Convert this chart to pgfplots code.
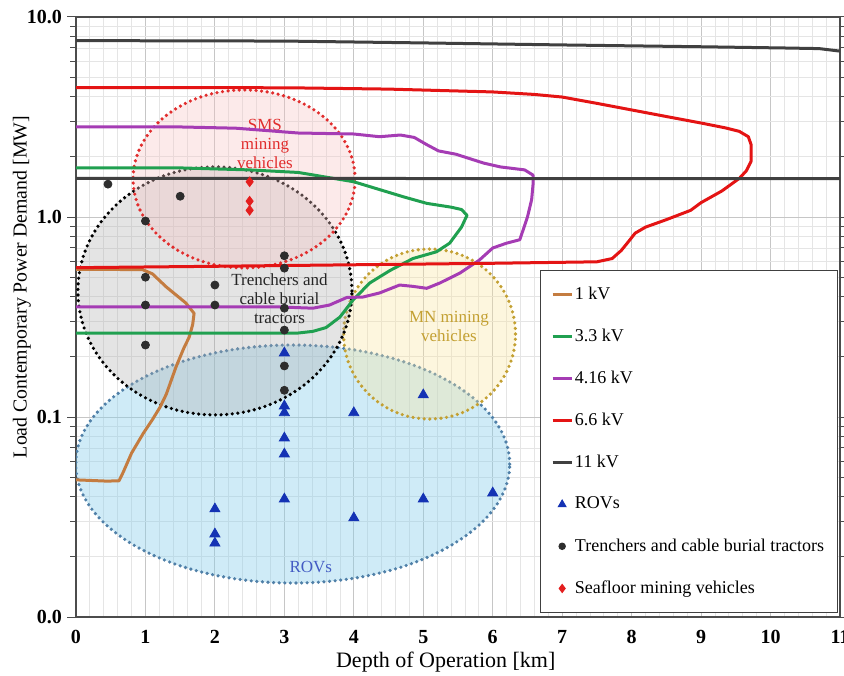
\documentclass[border=0pt]{standalone}
\usepackage{fontspec}
\setmainfont{Liberation Serif}
\usepackage{pgfplots}
\pgfplotsset{compat=1.18}
\definecolor{cone}{RGB}{196,124,64}
\definecolor{cthree}{RGB}{32,160,80}
\definecolor{cfour}{RGB}{165,60,180}
\definecolor{csix}{RGB}{228,20,20}
\definecolor{celeven}{RGB}{64,64,64}
\definecolor{crov}{RGB}{20,50,180}
\definecolor{ctr}{RGB}{45,45,45}
\definecolor{csea}{RGB}{228,30,30}
\definecolor{smsfill}{RGB}{245,195,195}
\definecolor{trfill}{RGB}{170,170,170}
\definecolor{mnfill}{RGB}{250,228,160}
\definecolor{rovfill}{RGB}{135,206,235}
\definecolor{mnline}{RGB}{195,160,50}
\definecolor{rovline}{RGB}{80,128,168}
\definecolor{smsline}{RGB}{225,45,45}
\pgfplotsset{
  linelegend/.style={legend image code/.code={\draw[##1, line width=1.3pt] (0pt,0pt) -- (9.5pt,0pt);}},
  marklegend/.style={legend image code/.code={\path[draw=none,fill=none] (0pt,0pt) -- (9.5pt,0pt); \path[##1, mark size=#1] plot coordinates {(4.75pt,0pt)};}},
}
\tikzset{dotb/.style={line width=1.8pt, line cap=round, dash pattern=on 0pt off 2.8pt}}
\begin{document}
\begin{tikzpicture}
\begin{axis}[name=ax, scale only axis, width=382pt, height=300pt,
  ymode=log, xmin=0, xmax=11, ymin=0.01, ymax=10,
  xtick={0,1,...,11}, xticklabels={\textbf{0},\textbf{1},\textbf{2},\textbf{3},\textbf{4},\textbf{5},\textbf{6},\textbf{7},\textbf{8},\textbf{9},\textbf{10},\textbf{11}},
  minor x tick num=4,
  ytick={0.01,0.1,1,10}, yticklabels={\textbf{0.0},\textbf{0.1},\textbf{1.0},\textbf{10.0}},
  minor ytick={0.02,0.03,0.04,0.05,0.06,0.07,0.08,0.09,0.2,0.3,0.4,0.5,0.6,0.7,0.8,0.9,2,3,4,5,6,7,8,9},
  grid=both, major grid style={color=gray!45, line width=0.5pt}, minor grid style={color=gray!20, line width=0.4pt},
  axis line style={color=black!70, line width=0.8pt},
  xtick style={draw=none},
  ytick style={color=black!70, line width=0.5pt},
  tick align=outside, major tick length=4.5pt, minor tick length=3pt,
  tick label style={font=\fontsize{10}{12}\selectfont},
  xticklabel style={yshift=1.5pt},
  yticklabel style={xshift=1pt},
  xlabel={Depth of Operation [km]}, ylabel={Load Contemporary Power Demand [MW]},
  xlabel style={font=\fontsize{11}{13}\selectfont, at={(axis description cs:0.484,-0.0745)}, anchor=center},
  ylabel style={font=\fontsize{9.9}{12}\selectfont, at={(axis description cs:-0.0707,0.55)}, anchor=center},
  legend cell align=left,
  legend style={at={(rel axis cs:0.997,0.007)}, anchor=south east, font=\fontsize{9}{10}\selectfont,
    draw=black!75, line width=0.5pt, fill=white, inner xsep=5.5pt, inner ysep=6pt, row sep=9.3pt,
    nodes={inner xsep=1pt}},
  linelegend,
]
% ellipses (annotation regions)
\draw[fill=rovfill, fill opacity=0.4, draw=rovline, dotb] (axis cs:3.12,0.0582) ellipse [x radius=108.5pt, y radius=59.5pt];
\draw[fill=mnfill, fill opacity=0.35, draw=mnline, dotb] (axis cs:5.09,0.26) ellipse [x radius=43pt, y radius=42.5pt];
\draw[fill=trfill, fill opacity=0.32, draw=black, dotb] (axis cs:2.0,0.427) ellipse [x radius=68.5pt, y radius=62pt];
\draw[fill=smsfill, fill opacity=0.35, draw=smsline, dotb] (axis cs:2.42,1.55) ellipse [x radius=55.5pt, y radius=44.5pt];
\node[align=center, text=smsline, font=\fontsize{8.5}{9.5}\selectfont] at (axis cs:2.72,2.32) {SMS\\mining\\vehicles};
\node[align=center, text=black!85, font=\fontsize{8.5}{9.5}\selectfont] at (axis cs:2.93,0.389) {Trenchers and\\cable burial\\tractors};
\node[align=center, text=mnline, font=\fontsize{8.5}{9.5}\selectfont] at (axis cs:5.37,0.285) {MN mining\\vehicles};
\node[align=center, text=crov!80, font=\fontsize{8.5}{9.5}\selectfont] at (axis cs:3.38,0.0178) {ROVs};

% 1 kV
\addplot[color=cone, line width=1.5pt, line join=round] coordinates {
(0,0.0485) (0.45,0.0478) (0.62,0.048) (0.68,0.053) (0.8,0.066) (0.97,0.083) (1.1,0.097) (1.21,0.112) (1.3,0.13) (1.44,0.178) (1.55,0.22) (1.63,0.251) (1.68,0.29) (1.7,0.33) (1.58,0.372) (1.3,0.447) (1.1,0.52) (0.96,0.545) (0.5,0.547) (0,0.547)};
\addlegendentry{1 kV}
% 3.3 kV
\addplot[color=cthree, line width=1.5pt, line join=round] coordinates {
(0,1.76) (1.5,1.76) (2.5,1.72) (3.2,1.67) (4.0,1.50) (4.72,1.26) (5.05,1.17) (5.4,1.12) (5.55,1.09) (5.63,1.02) (5.55,0.89) (5.38,0.74) (5.19,0.67) (4.85,0.62) (4.52,0.54) (4.23,0.468) (3.99,0.385) (3.8,0.316) (3.6,0.28) (3.41,0.268) (3.2,0.263) (0,0.263)};
\addlegendentry{3.3 kV}
% 4.16 kV
\addplot[color=cfour, line width=1.5pt, line join=round] coordinates {
(0,2.82) (1.5,2.82) (2.3,2.78) (3.2,2.63) (4.0,2.6) (4.37,2.52) (4.67,2.57) (4.87,2.5) (5.05,2.3) (5.22,2.14) (5.47,2.06) (5.87,1.86) (6.11,1.78) (6.46,1.72) (6.58,1.62) (6.58,1.45) (6.56,1.22) (6.5,1.0) (6.39,0.77) (6.2,0.74) (6.0,0.70) (5.81,0.61) (5.53,0.525) (5.24,0.468) (5.05,0.44) (4.85,0.45) (4.66,0.457) (4.37,0.417) (4.13,0.398) (3.9,0.396) (3.65,0.363) (3.41,0.35) (2.94,0.355) (0,0.355)};
\addlegendentry{4.16 kV}
% 6.6 kV
\addplot[color=csix, line width=1.5pt, line join=round] coordinates {
(0,4.44) (2,4.44) (3.2,4.42) (4.5,4.36) (6,4.22) (6.6,4.1) (7,3.98) (7.5,3.7) (8,3.43) (8.5,3.18) (9,2.95) (9.35,2.79) (9.55,2.68) (9.68,2.52) (9.72,2.3) (9.72,1.9) (9.65,1.7) (9.55,1.56) (9.3,1.35) (9.0,1.18) (8.85,1.08) (8.5,0.97) (8.2,0.89) (8.05,0.83) (7.95,0.75) (7.85,0.68) (7.72,0.62) (7.5,0.597) (6,0.587) (4,0.577) (2,0.567) (0,0.558)};
\addlegendentry{6.6 kV}
% 11 kV
\addplot[color=celeven, line width=1.5pt, line join=round] coordinates {
(0,7.62) (3,7.58) (5,7.42) (7,7.25) (9,7.1) (10.2,7.0) (10.7,6.95) (11,6.75)};
\addlegendentry{11 kV}
\addplot[color=celeven, line width=1.5pt, forget plot] coordinates {(0,1.56) (11,1.555)};
% ROVs
\addplot[only marks, mark=triangle*, mark size=2.9pt, color=crov, marklegend=2.2pt] coordinates {
(3,0.209) (3,0.1135) (3,0.105) (3,0.0785) (3,0.0653) (3,0.0389) (2,0.0347) (2,0.026) (2,0.0234) (4,0.105) (4,0.0313) (5,0.129) (5,0.0389) (6,0.0417)};
\addlegendentry{ROVs}
% Trenchers
\addplot[only marks, mark=*, mark size=2pt, color=ctr, marklegend=1.6pt] coordinates {
(0.46,1.46) (1.5,1.27) (1,0.955) (3,0.64) (3,0.555) (1,0.50) (2,0.457) (1,0.363) (2,0.363) (3,0.35) (3,0.272) (1,0.229) (3,0.18) (3,0.136)};
\addlegendentry{Trenchers and cable burial tractors}
% Seafloor mining vehicles
\addplot[only marks, mark=diamond*, mark size=2.4pt, color=csea, marklegend=2pt] coordinates {
(2.5,1.50) (2.5,1.20) (2.5,1.08)};
\addlegendentry{Seafloor mining vehicles}
\end{axis}
\pgfresetboundingbox
\path[use as bounding box] ([xshift=-38pt,yshift=-29pt]ax.south west) rectangle ([xshift=2pt,yshift=8.5pt]ax.north east);
\end{tikzpicture}
\end{document}
